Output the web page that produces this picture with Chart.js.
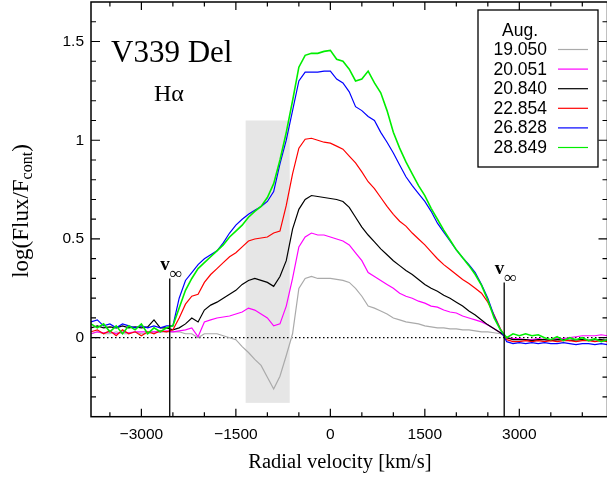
<!DOCTYPE html>
<html>
<head>
<meta charset="utf-8">
<script src="https://cdn.jsdelivr.net/npm/chart.js@4.4.1/dist/chart.umd.min.js"></script>
<style>
    html, body { margin: 0; padding: 0; background: #fff; overflow: hidden; }
    #wrap { width: 607px; height: 481px; overflow: hidden; }
</style>
</head>
<body>
<div id="wrap"><canvas id="js--chart" width="609" height="481"></canvas></div>
<script>
// radial velocity grid (km/s)
const velocities = [
    -3800, -3700, -3600, -3500, -3400, -3300, -3200, -3100, -3000, -2900,
    -2800, -2700, -2600, -2500, -2400, -2300, -2200, -2100, -2000, -1900,
    -1800, -1700, -1600, -1500, -1400, -1300, -1200, -1100, -1000, -900,
    -800, -700, -600, -500, -400, -300, -200, -100, 0, 100,
    200, 300, 400, 500, 600, 700, 800, 900, 1000, 1100,
    1200, 1300, 1400, 1500, 1600, 1700, 1800, 1900, 2000, 2100,
    2200, 2300, 2400, 2500, 2600, 2700, 2800, 2900, 3000, 3100,
    3200, 3300, 3400, 3500, 3600, 3700, 3800, 3900, 4000, 4100,
    4200, 4300, 4400
];

// log(Flux/Fcont) per date
const aug19 = [
    0.02, 0.03, 0.02, 0.02, 0.03, 0.02, 0.02, 0.03, 0.02, 0.02,
    0.03, 0.03, 0.03, 0.03, 0.03, 0.02, 0.02, 0.00, 0.02, 0.02,
    0.02, 0.01, 0.00, -0.01, -0.045, -0.075, -0.11, -0.14, -0.20, -0.26,
    -0.195, -0.09, 0.02, 0.25, 0.30, 0.31, 0.30, 0.30, 0.30, 0.295,
    0.29, 0.28, 0.25, 0.21, 0.16, 0.15, 0.135, 0.12, 0.10, 0.09,
    0.08, 0.075, 0.07, 0.06, 0.055, 0.05, 0.05, 0.045, 0.045, 0.04,
    0.04, 0.035, 0.03, 0.03, 0.025, 0.02, 0.005, -0.01, -0.01, -0.01,
    -0.01, -0.015, -0.01, -0.01, -0.015, -0.01, -0.01, -0.015, -0.01, -0.01,
    -0.01, -0.015, -0.01
];
const aug20a = [
    0.02, 0.03, 0.025, 0.03, 0.02, 0.03, 0.025, 0.03, 0.03, 0.03,
    0.03, 0.03, 0.035, 0.03, 0.035, 0.04, 0.05, 0.005, 0.08, 0.09,
    0.10, 0.105, 0.11, 0.12, 0.13, 0.15, 0.14, 0.12, 0.10, 0.06,
    0.07, 0.16, 0.30, 0.46, 0.51, 0.53, 0.52, 0.52, 0.51, 0.50,
    0.49, 0.47, 0.43, 0.39, 0.33, 0.31, 0.29, 0.27, 0.25, 0.225,
    0.21, 0.20, 0.185, 0.175, 0.16, 0.155, 0.14, 0.13, 0.125, 0.11,
    0.10, 0.09, 0.08, 0.065, 0.045, 0.025, 0.0, -0.005, -0.005, -0.01,
    -0.01, -0.005, -0.01, -0.01, -0.005, -0.005, 0.0, 0.005, 0.01, 0.01,
    0.01, 0.015, 0.01
];
const aug20b = [
    0.05, 0.06, 0.05, 0.055, 0.05, 0.06, 0.05, 0.055, 0.05, 0.055,
    0.09, 0.05, 0.05, 0.04, 0.05, 0.07, 0.10, 0.08, 0.14, 0.165,
    0.18, 0.20, 0.22, 0.24, 0.27, 0.29, 0.30, 0.29, 0.28, 0.26,
    0.31, 0.39, 0.55, 0.65, 0.70, 0.72, 0.715, 0.71, 0.705, 0.70,
    0.69, 0.66, 0.61, 0.56, 0.52, 0.485, 0.45, 0.42, 0.39, 0.365,
    0.34, 0.32, 0.295, 0.27, 0.25, 0.235, 0.215, 0.20, 0.18, 0.16,
    0.135, 0.115, 0.09, 0.065, 0.045, 0.025, 0.0, -0.01, -0.01, -0.01,
    -0.015, -0.01, -0.01, -0.015, -0.01, -0.01, -0.015, -0.01, -0.01, -0.015,
    -0.01, -0.01, -0.015
];
const aug22 = [
    0.03, 0.04, 0.02, 0.035, 0.01, 0.04, 0.02, 0.03, 0.01, 0.03,
    0.02, 0.035, 0.03, 0.04, 0.10, 0.17, 0.21, 0.22, 0.28, 0.32,
    0.35, 0.38, 0.41, 0.43, 0.46, 0.49, 0.50, 0.505, 0.51, 0.53,
    0.54, 0.67, 0.83, 0.96, 1.005, 1.01, 1.0, 0.99, 0.985, 0.97,
    0.955, 0.92, 0.885, 0.84, 0.79, 0.755, 0.71, 0.665, 0.625, 0.59,
    0.565, 0.53, 0.50, 0.47, 0.435, 0.40, 0.37, 0.345, 0.32, 0.295,
    0.275, 0.25, 0.225, 0.18, 0.115, 0.045, -0.01, -0.02, -0.02, -0.015,
    -0.02, -0.015, -0.02, -0.015, -0.02, -0.015, -0.015, -0.02, -0.015, -0.015,
    -0.02, -0.015, -0.02
];
const aug26 = [
    0.08, 0.09, 0.06, 0.07, 0.05, 0.07, 0.06, 0.05, 0.06, 0.05,
    0.06, 0.05, 0.06, 0.06, 0.20, 0.29, 0.33, 0.37, 0.40, 0.42,
    0.44, 0.48, 0.53, 0.57, 0.60, 0.625, 0.645, 0.665, 0.69, 0.74,
    0.88, 1.0, 1.15, 1.30, 1.345, 1.345, 1.345, 1.35, 1.35, 1.31,
    1.29, 1.245, 1.17, 1.15, 1.12, 1.10, 1.04, 0.99, 0.935, 0.875,
    0.815, 0.77, 0.73, 0.69, 0.64, 0.58, 0.535, 0.49, 0.445, 0.405,
    0.37, 0.33, 0.27, 0.20, 0.11, 0.04, -0.02, -0.03, -0.025, -0.03,
    -0.025, -0.03, -0.025, -0.03, -0.03, -0.025, -0.03, -0.035, -0.03, -0.03,
    -0.035, -0.03, -0.035
];
const aug28 = [
    0.07, 0.05, 0.07, 0.03, 0.06, 0.02, 0.06, 0.04, 0.07, 0.02,
    0.05, 0.03, 0.05, 0.06, 0.15, 0.24, 0.30, 0.35, 0.38, 0.41,
    0.44, 0.47, 0.51, 0.54, 0.57, 0.61, 0.64, 0.665, 0.71, 0.78,
    0.90, 1.04, 1.20, 1.37, 1.43, 1.44, 1.44, 1.45, 1.455, 1.41,
    1.40, 1.36, 1.30, 1.31, 1.35, 1.29, 1.24, 1.15, 1.04, 0.96,
    0.89, 0.83, 0.77, 0.72, 0.655, 0.60, 0.545, 0.495, 0.445, 0.405,
    0.365, 0.32, 0.265, 0.19, 0.10, 0.04, 0.0, 0.02, 0.01, 0.02,
    0.01, 0.015, 0.0, -0.01, 0.005, -0.015, 0.0, -0.01, 0.0, -0.015,
    -0.005, -0.02, -0.01
];

const dates = ["19.050", "20.051", "20.840", "22.854", "26.828", "28.849"];
const series = [aug19, aug20a, aug20b, aug22, aug26, aug28];
const colors = ["#aaaaaa", "#ff00ff", "#000000", "#ff0000", "#0000ff", "#00ee00"];

const xTickLabels = [-3000, -1500, 0, 1500, 3000];
const xMinorTicks = [-3500, -2500, -2000, -1000, -500, 500, 1000, 2000, 2500, 3500, 4000];
const yTickLabels = [0, 0.5, 1, 1.5];
const yMinorTicks = [-0.3, -0.2, -0.1, 0.1, 0.2, 0.3, 0.4, 0.6, 0.7, 0.8, 0.9, 1.1, 1.2, 1.3, 1.4, 1.6];

// grey absorption band and terminal velocities
const band = { from: -1345, to: -645, top: 1.10, bottom: -0.33 };
const vInf = [-2550, 2760];
const vInfTop = [0.30, 0.28];

const SANS = '"Liberation Sans", Arial, sans-serif';
const SERIF = '"Liberation Serif", "Times New Roman", serif';

const datasets = series.map(function (values, i) {
    return {
        label: dates[i],
        data: velocities.map(function (v, j) { return { x: v, y: values[j] }; }),
        borderColor: colors[i],
        borderWidth: i === 5 ? 1.6 : 1.2,
        pointRadius: 0,
        tension: 0,
        fill: false,
        order: 6 - i
    };
});

function tickMarks(ctx, scale, values, len, area, horizontal) {
    values.forEach(function (v) {
        const p = scale.getPixelForValue(v);
        ctx.beginPath();
        if (horizontal) {
            ctx.moveTo(p, area.bottom); ctx.lineTo(p, area.bottom - len);
            ctx.moveTo(p, area.top); ctx.lineTo(p, area.top + len);
        } else {
            ctx.moveTo(area.left, p); ctx.lineTo(area.left + len, p);
            ctx.moveTo(area.right, p); ctx.lineTo(area.right - len, p);
        }
        ctx.stroke();
    });
}

const decor = {
    id: 'decor',
    beforeDatasetsDraw(chart) {
        const ctx = chart.ctx, x = chart.scales.x, y = chart.scales.y, a = chart.chartArea;
        ctx.save();
        ctx.fillStyle = '#e6e6e6';
        const x1 = x.getPixelForValue(band.from), x2 = x.getPixelForValue(band.to);
        const y1 = y.getPixelForValue(band.top), y2 = y.getPixelForValue(band.bottom);
        ctx.fillRect(x1, y1, x2 - x1, y2 - y1);

        ctx.strokeStyle = '#000';
        ctx.lineWidth = 1.2;
        ctx.setLineDash([1.5, 2.5]);
        const y0 = y.getPixelForValue(0);
        ctx.beginPath();
        ctx.moveTo(a.left, y0);
        ctx.lineTo(a.right, y0);
        ctx.stroke();
        ctx.restore();
    },
    afterDatasetsDraw(chart) {
        const ctx = chart.ctx, x = chart.scales.x, y = chart.scales.y, a = chart.chartArea;
        ctx.save();
        ctx.strokeStyle = '#000';
        ctx.fillStyle = '#000';

        // terminal velocity markers
        ctx.lineWidth = 1.3;
        vInf.forEach(function (v, i) {
            const px = x.getPixelForValue(v);
            const top = y.getPixelForValue(vInfTop[i]);
            ctx.beginPath();
            ctx.moveTo(px, top);
            ctx.lineTo(px, a.bottom);
            ctx.stroke();
            ctx.textBaseline = 'alphabetic';
            ctx.textAlign = 'right';
            ctx.font = 'bold 19px ' + SERIF;
            ctx.fillText('v', px, top - 8);
            ctx.textAlign = 'left';
            ctx.font = 'bold 17px ' + SERIF;
            ctx.fillText('\u221e', px, top + 1);
        });

        // frame and tick marks
        ctx.lineWidth = 1.5;
        ctx.strokeRect(a.left, a.top, a.right - a.left, a.bottom - a.top);
        ctx.lineWidth = 1.2;
        tickMarks(ctx, x, xTickLabels, 8, a, true);
        tickMarks(ctx, x, xMinorTicks, 4.5, a, true);
        tickMarks(ctx, y, yTickLabels, 9, a, false);
        tickMarks(ctx, y, yMinorTicks, 5, a, false);

        // star name and line
        ctx.textAlign = 'left';
        ctx.textBaseline = 'alphabetic';
        ctx.font = '31px ' + SERIF;
        ctx.fillText('V339 Del', 111, 62);
        ctx.font = '24px ' + SERIF;
        ctx.fillText('H\u03b1', 154, 101);

        // axis titles
        ctx.font = '20.5px ' + SERIF;
        ctx.textAlign = 'center';
        ctx.fillText('Radial velocity [km/s]', 340, 468);

        ctx.save();
        ctx.translate(28, 211);
        ctx.rotate(-Math.PI / 2);
        ctx.textAlign = 'left';
        const mainFont = '23px ' + SERIF, subFont = '16px ' + SERIF;
        ctx.font = mainFont;
        const w1 = ctx.measureText('log(Flux/F').width;
        const w3 = ctx.measureText(')').width;
        ctx.font = subFont;
        const w2 = ctx.measureText('cont').width;
        let start = -(w1 + w2 + w3) / 2;
        ctx.font = mainFont;
        ctx.fillText('log(Flux/F', start, 0);
        ctx.font = subFont;
        ctx.fillText('cont', start + w1, 4);
        ctx.font = mainFont;
        ctx.fillText(')', start + w1 + w2, 0);
        ctx.restore();

        // legend box
        ctx.fillStyle = '#fff';
        ctx.fillRect(478, 10, 120, 157);
        ctx.lineWidth = 1.3;
        ctx.strokeRect(478, 10, 120, 157);
        ctx.fillStyle = '#000';
        ctx.font = '17.5px ' + SANS;
        ctx.textAlign = 'center';
        ctx.fillText('Aug.', 520, 36);
        ctx.textAlign = 'right';
        chart.data.datasets.forEach(function (ds, i) {
            const base = 55 + i * 19.6;
            ctx.fillStyle = '#000';
            ctx.fillText(ds.label, 547, base);
            ctx.strokeStyle = ds.borderColor;
            ctx.lineWidth = 1.2;
            ctx.beginPath();
            ctx.moveTo(558, base - 5.5);
            ctx.lineTo(588, base - 5.5);
            ctx.stroke();
        });
        ctx.restore();
    }
};

const config = {
    type: 'line',
    data: { datasets: datasets },
    options: {
        responsive: false,
        animation: false,
        events: [],
        layout: { padding: { top: 2, left: 0, right: 1.5, bottom: 0 } },
        plugins: { legend: { display: false }, tooltip: { enabled: false } },
        scales: {
            x: {
                type: 'linear',
                min: -3800,
                max: 4400,
                grid: { display: false, drawTicks: false },
                border: { display: false },
                afterBuildTicks: function (scale) {
                    scale.ticks = xTickLabels.map(function (v) { return { value: v }; });
                },
                afterFit: function (scale) {
                    scale.height = 64.3;
                    scale.paddingLeft = 0;
                    scale.paddingRight = 0;
                },
                ticks: {
                    padding: 9,
                    maxRotation: 0,
                    autoSkip: false,
                    color: '#000',
                    font: { family: SANS, size: 15.5 },
                    callback: function (v) { return v < 0 ? '\u2212' + Math.abs(v) : String(v); }
                }
            },
            y: {
                type: 'linear',
                min: -0.4,
                max: 1.7,
                grid: { display: false, drawTicks: false },
                border: { display: false },
                afterBuildTicks: function (scale) {
                    scale.ticks = yTickLabels.map(function (v) { return { value: v }; });
                },
                afterFit: function (scale) {
                    scale.width = 91;
                    scale.paddingTop = 0;
                    scale.paddingBottom = 0;
                },
                ticks: {
                    padding: 7,
                    autoSkip: false,
                    color: '#000',
                    font: { family: SANS, size: 15.5 },
                    callback: function (v) { return String(v); }
                }
            }
        }
    },
    plugins: [decor]
};

new Chart(document.getElementById("js--chart"), config);
</script>
</body>
</html>
